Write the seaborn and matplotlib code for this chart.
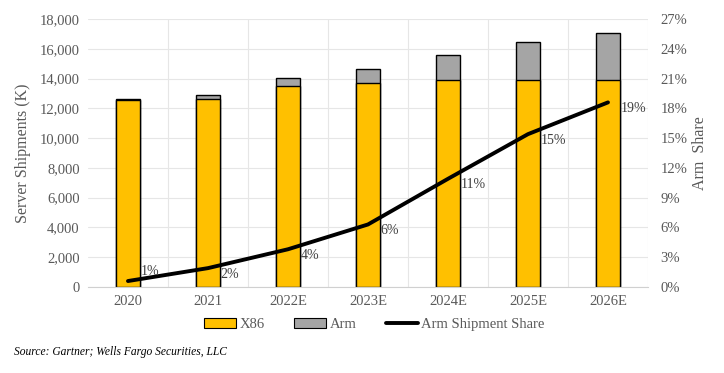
import numpy as np
import pandas as pd
import matplotlib
matplotlib.use("Agg")
import matplotlib.pyplot as plt
from matplotlib.patches import Patch
from matplotlib.lines import Line2D
from matplotlib.ticker import FuncFormatter
import seaborn as sns

years = ["2020", "2021", "2022E", "2023E", "2024E", "2025E", "2026E"]
x86 = [12550, 12650, 13500, 13700, 13900, 13900, 13900]
arm = [100, 250, 550, 950, 1700, 2550, 3150]
arm_share = [0.6, 1.9, 3.8, 6.3, 10.9, 15.4, 18.6]
share_labels = ["1%", "2%", "4%", "6%", "11%", "15%", "19%"]

yellow = "#FFC000"
grey = "#A5A5A5"
txt = "#595959"

df = pd.DataFrame({"year": years, "x86": x86, "arm": arm, "share": arm_share})
df["total"] = df["x86"] + df["arm"]
df["pos"] = np.arange(len(df))

sns.set_style("white")
plt.rcParams["font.family"] = ["Liberation Serif", "DejaVu Serif"]

fig = plt.figure(figsize=(7.24, 3.73), dpi=100)
ax = fig.add_axes([0.1215, 0.2306, 0.7735, 0.7184])

sns.barplot(data=df, x="year", y="total", color=grey, width=0.31,
            edgecolor="black", linewidth=1, saturation=1, ax=ax)
sns.barplot(data=df, x="year", y="x86", color=yellow, width=0.31,
            edgecolor="black", linewidth=1, saturation=1, ax=ax)

ax.set_xlim(-0.5, len(years) - 0.5)
ax.set_ylim(0, 18000)
ax.set_yticks(np.arange(0, 18001, 2000))
ax.yaxis.set_major_formatter(FuncFormatter(lambda v, p: f"{int(v):,}"))
ax.set_xticks(np.arange(len(years)))
ax.set_xticks(np.arange(len(years)) + 0.5, minor=True)
ax.grid(True, axis="y", color="#E6E6E6", lw=0.8)
ax.grid(True, axis="x", which="minor", color="#E6E6E6", lw=0.8)
ax.set_axisbelow(True)
for s in ["top", "right", "left"]:
    ax.spines[s].set_visible(False)
ax.spines["bottom"].set_color("#D0D0D0")
ax.tick_params(axis="both", which="both", length=0, labelsize=10.5, colors=txt, pad=6)
ax.set_xlabel("")
ax.set_ylabel("Server Shipments (K)", fontsize=11.5, color=txt, labelpad=6)

ax2 = ax.twinx()
sns.lineplot(data=df, x="pos", y="share", color="black", lw=2.8, ax=ax2)
ax2.set_ylim(0, 27)
ax2.set_yticks(np.arange(0, 28, 3))
ax2.yaxis.set_major_formatter(FuncFormatter(lambda v, p: f"{int(v)}%"))
ax2.set_xlim(-0.5, len(years) - 0.5)
for s in ax2.spines.values():
    s.set_visible(False)
ax2.tick_params(axis="y", length=0, labelsize=10.5, colors=txt, pad=9)
ax2.set_xlabel("")
ax2.set_ylabel("Arm  Share", fontsize=11.5, color=txt, labelpad=3)

for i, (v, lab) in enumerate(zip(arm_share, share_labels)):
    dy = 1.0 if i == 0 else -0.6
    ax2.annotate(lab, (i, v), xytext=(i + 0.16, v + dy), fontsize=10,
                 color="#404040", va="center", ha="left")

handles = [Patch(facecolor=yellow, edgecolor="black", lw=0.8),
           Patch(facecolor=grey, edgecolor="black", lw=0.8),
           Line2D([0], [0], color="black", lw=2.8)]
fig.legend(handles, ["X86", "Arm", "Arm Shipment Share"], loc="center",
           bbox_to_anchor=(0.517, 0.13), ncol=3, frameon=False, fontsize=10.5,
           handlelength=2.2, handletextpad=0.25, columnspacing=2.0,
           labelcolor=txt)

fig.text(0.02, 0.055, "Source: Gartner; Wells Fargo Securities, LLC",
         fontsize=8.3, style="italic", color="black", va="center")

fig.savefig("out.png", dpi=100)
